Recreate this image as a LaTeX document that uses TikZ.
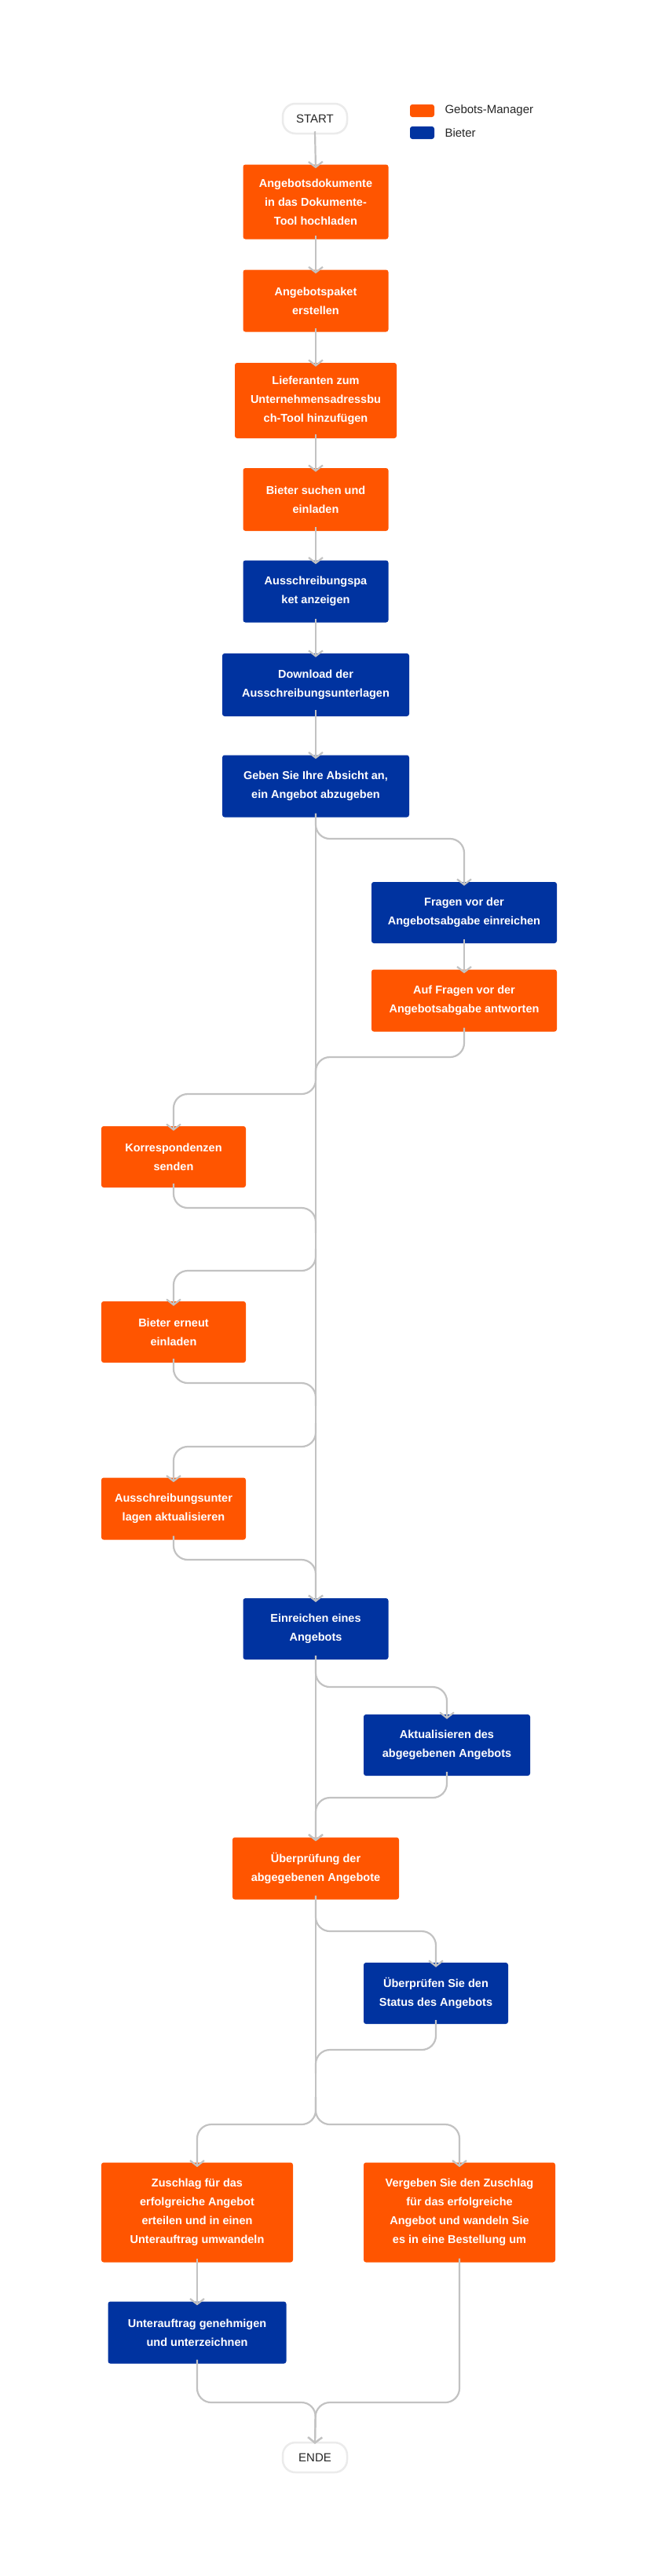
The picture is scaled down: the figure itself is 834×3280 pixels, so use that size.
\documentclass[tikz,border=0pt]{standalone}
\usepackage{fontspec}
\setmainfont{Liberation Sans}
\usetikzlibrary{arrows.meta}
\usetikzlibrary{positioning}
\definecolor{mgrorange}{HTML}{FF5500}
\definecolor{bidblue}{HTML}{0033A0}
\definecolor{flowgray}{HTML}{C2C2C2}
\tikzset{
	box/.style = {rounded corners=3pt, inner sep=0pt, align=center, text=white, font=\bfseries\fontsize{14.5}{24}\selectfont},
	mgr/.style = {box, fill=mgrorange},
	bid/.style = {box, fill=bidblue},
	term/.style = {rounded corners=16pt, draw=black!8, line width=2.5pt, fill=white, minimum width=82pt, minimum height=38pt, font=\fontsize{15}{18}\selectfont, text=black!85},
	line/.style = {draw=flowgray, line width=2.2pt, rounded corners=18pt},
	arr/.style = {line, -{Straight Barb[length=7pt,width=18pt]}}
}
\begin{document}
\begin{tikzpicture}[x=1pt,y=-1pt]
		\useasboundingbox (0,0) rectangle (834,3280);
		% legend
		\fill[mgrorange, rounded corners=3pt] (522,133) rectangle (553,149);
		\fill[bidblue, rounded corners=3pt] (522,161) rectangle (553,177);
		\node[anchor=west, font=\fontsize{15}{18}\selectfont, text=black!85] (lgm) at (563,141) {Gebots-Manager};
		\node[anchor=west, font=\fontsize{15}{18}\selectfont, text=black!85] (lgb) at (563,169) {Bieter};
		% nodes
		\node[term] (Start) at (401,151) {START};
		\node[mgr, minimum width=185pt, minimum height=95pt] (A) at (402,257) {Angebotsdokumente\\in das Dokumente-\\Tool hochladen};
		\node[mgr, minimum width=185pt, minimum height=79pt] (B) at (402,383) {Angebotspaket\\erstellen};
		\node[mgr, minimum width=206pt, minimum height=96pt] (C) at (402,510) {Lieferanten zum\\Unternehmensadressbu\\ch-Tool hinzufügen};
		\node[mgr, minimum width=185pt, minimum height=80pt] (D) at (402,636) {Bieter suchen und\\einladen};
		\node[bid, minimum width=185pt, minimum height=79pt] (E) at (402,753) {Ausschreibungspa\\ket anzeigen};
		\node[bid, minimum width=238pt, minimum height=80pt] (F) at (402,872) {Download der\\Ausschreibungsunterlagen};
		\node[bid, minimum width=238pt, minimum height=79pt] (G) at (402,1001) {Geben Sie Ihre Absicht an,\\ein Angebot abzugeben};
		\node[bid, minimum width=236pt, minimum height=78pt] (H) at (591,1162) {Fragen vor der\\Angebotsabgabe einreichen};
		\node[mgr, minimum width=236pt, minimum height=79pt] (I) at (591,1274) {Auf Fragen vor der\\Angebotsabgabe antworten};
		\node[mgr, minimum width=184pt, minimum height=78pt] (J) at (221,1473) {Korrespondenzen\\senden};
		\node[mgr, minimum width=184pt, minimum height=78pt] (K) at (221,1696) {Bieter erneut\\einladen};
		\node[mgr, minimum width=184pt, minimum height=79pt] (L) at (221,1921) {Ausschreibungsunter\\lagen aktualisieren};
		\node[bid, minimum width=185pt, minimum height=78pt] (M) at (402,2074) {Einreichen eines\\Angebots};
		\node[bid, minimum width=212pt, minimum height=78pt] (N) at (569,2222) {Aktualisieren des\\abgegebenen Angebots};
		\node[mgr, minimum width=212pt, minimum height=79pt] (O) at (402,2379) {Überprüfung der\\abgegebenen Angebote};
		\node[bid, minimum width=184pt, minimum height=78pt] (P) at (555,2538) {Überprüfen Sie den\\Status des Angebots};
		\node[mgr, minimum width=244pt, minimum height=127pt] (Q) at (251,2817) {Zuschlag für das\\erfolgreiche Angebot\\erteilen und in einen\\Unterauftrag umwandeln};
		\node[mgr, minimum width=244pt, minimum height=127pt] (R) at (585,2817) {Vergeben Sie den Zuschlag\\für das erfolgreiche\\Angebot und wandeln Sie\\es in eine Bestellung um};
		\node[bid, minimum width=227pt, minimum height=79pt] (S) at (251,2970) {Unterauftrag genehmigen\\und unterzeichnen};
		\node[term] (Ende) at (401,3129) {ENDE};
		% straight steps
		\draw[arr] ([yshift=4pt]Start.south) -- ([yshift=-5pt]A.north);
		\draw[arr] ([yshift=5pt]A.south) -- ([yshift=-5pt]B.north);
		\draw[arr] ([yshift=5pt]B.south) -- ([yshift=-5pt]C.north);
		\draw[arr] ([yshift=5pt]C.south) -- ([yshift=-5pt]D.north);
		\draw[arr] ([yshift=5pt]D.south) -- ([yshift=-5pt]E.north);
		\draw[arr] ([yshift=5pt]E.south) -- ([yshift=-5pt]F.north);
		\draw[arr] ([yshift=8pt]F.south) -- ([yshift=-5pt]G.north);
		\draw[arr] ([yshift=5pt]H.south) -- ([yshift=-5pt]I.north);
		\draw[arr] ([yshift=5pt]Q.south) -- ([yshift=-5pt]S.north);
		% trunk
		\coordinate (j1) at (402,1375);
		\coordinate (j2) at (402,1570);
		\coordinate (j3) at (402,1790);
		\coordinate (j4) at (402,2640);
		\draw[arr] ([yshift=5pt]G.south) -- ([yshift=-5pt]M.north);
		\draw[arr] ([yshift=5pt]M.south) -- ([yshift=-5pt]O.north);
		\draw[line] ([yshift=5pt]O.south) -- (402,2690);
		% branches out and back
		\draw[arr] ([yshift=5pt]G.south) -- (402,1068) -- (591,1068) -- ([yshift=-5pt]H.north);
		\draw[line] ([yshift=5pt]I.south) -- (591,1346) -- (402,1346) -- (j1);
		\draw[arr] (402,1360) -- (402,1393) -- (221,1393) -- ([yshift=-6pt]J.north);
		\draw[line] ([yshift=5pt]J.south) -- (221,1538) -- (402,1538) -- (j2);
		\draw[arr] (402,1590) -- (402,1618) -- (221,1618) -- ([yshift=-6pt]K.north);
		\draw[line] ([yshift=5pt]K.south) -- (221,1761) -- (402,1761) -- (j3);
		\draw[arr] (402,1812) -- (402,1842) -- (221,1842) -- ([yshift=-6pt]L.north);
		\draw[arr] ([yshift=5pt]L.south) -- (221,1986) -- (402,1986) -- ([yshift=-5pt]M.north);
		\draw[arr] ([yshift=5pt]M.south) -- (402,2148) -- (569,2148) -- ([yshift=-6pt]N.north);
		\draw[arr] ([yshift=5pt]N.south) -- (569,2289) -- (402,2289) -- ([yshift=-5pt]O.north);
		\draw[arr] ([yshift=5pt]O.south) -- (402,2459) -- (555,2459) -- ([yshift=-6pt]P.north);
		\draw[line] ([yshift=5pt]P.south) -- (555,2610) -- (402,2610) -- (j4);
		\draw[arr] (402,2670) -- (402,2705) -- (251,2705) -- ([yshift=-6pt]Q.north);
		\draw[arr] (402,2670) -- (402,2705) -- (585,2705) -- ([yshift=-6pt]R.north);
		% to the end
		\draw[arr] ([yshift=5pt]S.south) -- (251,3059) -- (402,3059) -- ([yshift=-3pt]Ende.north);
		\draw[arr] ([yshift=5pt]R.south) -- (585,3059) -- (402,3059) -- ([yshift=-3pt]Ende.north);
	\end{tikzpicture}
\end{document}
